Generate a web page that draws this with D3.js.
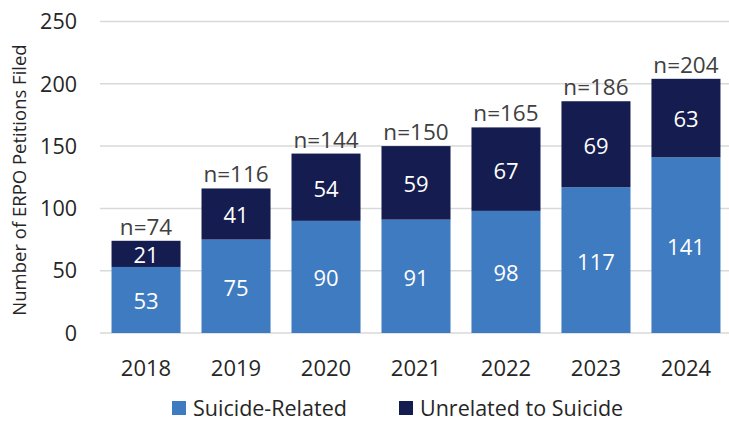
<!DOCTYPE html>
<html>
<head>
<meta charset="utf-8">
<script src="https://cdn.jsdelivr.net/npm/d3@7"></script>
<style>
  body { margin: 0; background: #fff; overflow: hidden; }
  svg { display: block; }
  svg text { font-family: "Open Sans", "Noto Sans", sans-serif; }
</style>
</head>
<body>
<svg id="chart"></svg>
<script>
// data
const years = ["2018", "2019", "2020", "2021", "2022", "2023", "2024"];
const suicideRelated = [53, 75, 90, 91, 98, 117, 141];
const unrelated = [21, 41, 54, 59, 67, 69, 63];
const totals = [74, 116, 144, 150, 165, 186, 204];
const yTicks = [0, 50, 100, 150, 200, 250];
const seriesNames = ["Suicide-Related", "Unrelated to Suicide"];

const width = 729, height = 422;
const colors = ["#3f7bc1", "#151c4f"];

const svg = d3.select("#chart")
  .attr("width", width)
  .attr("height", height);

const x = d3.scaleBand()
  .domain(years)
  .range([101, 731])
  .paddingInner(0.233)
  .paddingOuter(0.117);

const y = d3.scaleLinear()
  .domain([0, 250])
  .range([333, 21.5]);

// gridlines
svg.append("g")
  .selectAll("line")
  .data(yTicks)
  .join("line")
  .attr("x1", 100)
  .attr("x2", 729)
  .attr("y1", d => y(d))
  .attr("y2", d => y(d))
  .attr("stroke", "#d9d9d9")
  .attr("stroke-width", 1.5);

// y tick labels
svg.append("g")
  .selectAll("text")
  .data(yTicks)
  .join("text")
  .attr("x", 77)
  .attr("y", d => y(d))
  .attr("dy", "0.36em")
  .attr("text-anchor", "end")
  .attr("font-size", 21.5)
  .attr("fill", "#262626")
  .text(d => d);

// y axis title
svg.append("text")
  .attr("transform", "translate(26,180) rotate(-90)")
  .attr("text-anchor", "middle")
  .attr("font-size", 18.5)
  .attr("fill", "#262626")
  .text("Number of ERPO Petitions Filed");

// stacked bars
const rows = years.map((yr, i) => ({ year: yr, s: suicideRelated[i], u: unrelated[i], n: totals[i] }));
const stack = d3.stack().keys(["s", "u"])(rows);

const layers = svg.append("g")
  .selectAll("g")
  .data(stack)
  .join("g")
  .attr("fill", (d, i) => colors[i]);

layers.selectAll("rect")
  .data(d => d)
  .join("rect")
  .attr("x", d => x(d.data.year))
  .attr("width", x.bandwidth())
  .attr("y", d => y(d[1]))
  .attr("height", d => y(d[0]) - y(d[1]));

// value labels inside bars
layers.selectAll("text")
  .data(d => d)
  .join("text")
  .attr("x", d => x(d.data.year) + x.bandwidth() / 2)
  .attr("y", d => (y(d[0]) + y(d[1])) / 2 + 1.5)
  .attr("dy", "0.36em")
  .attr("text-anchor", "middle")
  .attr("font-size", 22)
  .attr("fill", "#ffffff")
  .text(d => d[1] - d[0]);

// total labels
svg.append("g")
  .selectAll("text")
  .data(rows)
  .join("text")
  .attr("x", d => x(d.year) + x.bandwidth() / 2)
  .attr("y", d => y(d.n) - 6)
  .attr("text-anchor", "middle")
  .attr("font-size", 22.5)
  .attr("fill", "#404040")
  .text(d => "n=" + d.n);

// x axis labels
svg.append("g")
  .selectAll("text")
  .data(years)
  .join("text")
  .attr("x", d => x(d) + x.bandwidth() / 2)
  .attr("y", 368.5)
  .attr("dy", "0.36em")
  .attr("text-anchor", "middle")
  .attr("font-size", 22)
  .attr("fill", "#262626")
  .text(d => d);

// legend
const legendX = [172, 399];
const legend = svg.append("g")
  .selectAll("g")
  .data(seriesNames)
  .join("g")
  .attr("transform", (d, i) => `translate(${legendX[i]},408)`);

legend.append("rect")
  .attr("x", 0)
  .attr("y", -7)
  .attr("width", 14)
  .attr("height", 14)
  .attr("fill", (d, i) => colors[i]);

legend.append("text")
  .attr("x", 21)
  .attr("y", 0)
  .attr("dy", "0.36em")
  .attr("font-size", 21.5)
  .attr("fill", "#262626")
  .text(d => d);
</script>
</body>
</html>
